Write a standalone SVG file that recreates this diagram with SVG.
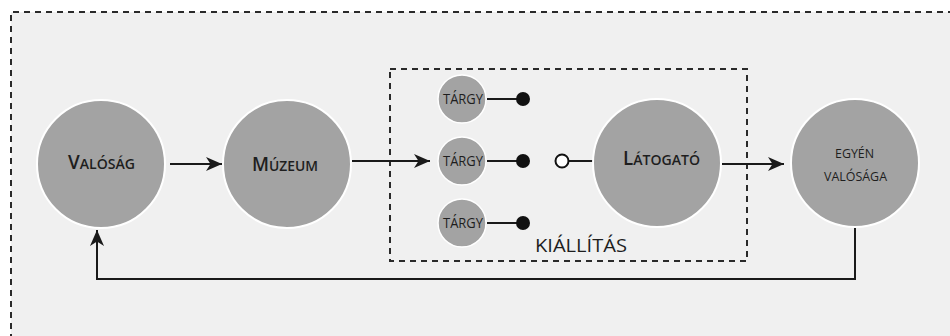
<svg xmlns="http://www.w3.org/2000/svg" width="950" height="336" viewBox="0 0 950 336">
<defs>
<style>
.bg{fill:#f0f0f0}
.frame{fill:none;stroke:#2a2a2a;stroke-width:2;stroke-dasharray:6 5}
.node{fill:#a3a3a3;stroke:#ffffff;stroke-width:2}
.small{fill:#a3a3a3;stroke:#ffffff;stroke-width:1.5}
.lbl{font-family:"Open Sans","Noto Sans",sans-serif;fill:#1e1e1e;text-anchor:middle;font-weight:600}
.reg{font-family:"Open Sans","Noto Sans",sans-serif;fill:#1e1e1e;text-anchor:middle;font-weight:400}
.conn{fill:none;stroke:#1a1a1a;stroke-width:2}
.dot{fill:#111111}
.open{fill:#ffffff;stroke:#111111;stroke-width:2}
</style>
<marker id="arr" viewBox="0 0 16 14" refX="16" refY="7" markerWidth="16" markerHeight="14" markerUnits="userSpaceOnUse" orient="auto">
<path d="M0,0 L16,7 L0,14 L4.5,7 z" fill="#1a1a1a"/>
</marker>
</defs>
<rect class="bg" x="11" y="12" width="945" height="330"/>
<path class="frame" d="M11,340 V12 H952"/>
<rect class="frame" x="390" y="69" width="357" height="192"/>
<text class="reg" x="581" y="252" font-size="19" textLength="92" lengthAdjust="spacingAndGlyphs">KIÁLLÍTÁS</text>
<g id="connectors">
<line class="conn" x1="170" y1="164" x2="222" y2="164" marker-end="url(#arr)"/>
<line class="conn" x1="352" y1="161" x2="430" y2="161" marker-end="url(#arr)"/>
<line class="conn" x1="487" y1="99" x2="518" y2="99"/>
<line class="conn" x1="487" y1="161" x2="518" y2="161"/>
<line class="conn" x1="487" y1="223" x2="518" y2="223"/>
<line class="conn" x1="569" y1="161" x2="596" y2="161"/>
<line class="conn" x1="722" y1="164" x2="784" y2="164" marker-end="url(#arr)"/>
<path class="conn" d="M855,226 V279 H97 V230" marker-end="url(#arr)"/>
<circle class="dot" cx="523" cy="99" r="7"/>
<circle class="dot" cx="523" cy="161" r="7"/>
<circle class="dot" cx="523" cy="223" r="7"/>
<circle class="open" cx="562" cy="161" r="6.5"/>
</g>
<g id="valosag">
<circle class="node" cx="101" cy="164" r="64"/>
<text class="lbl" x="101.5" y="169" textLength="67" lengthAdjust="spacingAndGlyphs"><tspan font-size="20">V</tspan><tspan font-size="15">ALÓSÁG</tspan></text>
</g>
<g id="muzeum">
<circle class="node" cx="287" cy="164" r="64"/>
<text class="lbl" x="285" y="171" textLength="66" lengthAdjust="spacingAndGlyphs"><tspan font-size="20">M</tspan><tspan font-size="15">ÚZEUM</tspan></text>
</g>
<g id="targy1">
<circle class="small" cx="462" cy="99" r="24"/>
<text class="reg" x="463" y="104" font-size="14" textLength="40" lengthAdjust="spacingAndGlyphs">TÁRGY</text>
</g>
<g id="targy2">
<circle class="small" cx="462" cy="161" r="24"/>
<text class="reg" x="463" y="166" font-size="14" textLength="40" lengthAdjust="spacingAndGlyphs">TÁRGY</text>
</g>
<g id="targy3">
<circle class="small" cx="462" cy="223" r="24"/>
<text class="reg" x="463" y="228" font-size="14" textLength="40" lengthAdjust="spacingAndGlyphs">TÁRGY</text>
</g>
<g id="latogato">
<circle class="node" cx="657" cy="163" r="64"/>
<text class="lbl" x="661.5" y="165" textLength="77" lengthAdjust="spacingAndGlyphs"><tspan font-size="20">L</tspan><tspan font-size="15">ÁTOGATÓ</tspan></text>
</g>
<g id="egyen">
<circle class="node" cx="855" cy="163" r="64"/>
<text class="reg" x="854.5" y="158" font-size="13.5" textLength="39" lengthAdjust="spacingAndGlyphs">EGYÉN</text>
<text class="reg" x="855.5" y="181" font-size="13.5" textLength="63" lengthAdjust="spacingAndGlyphs">VALÓSÁGA</text>
</g>
</svg>
